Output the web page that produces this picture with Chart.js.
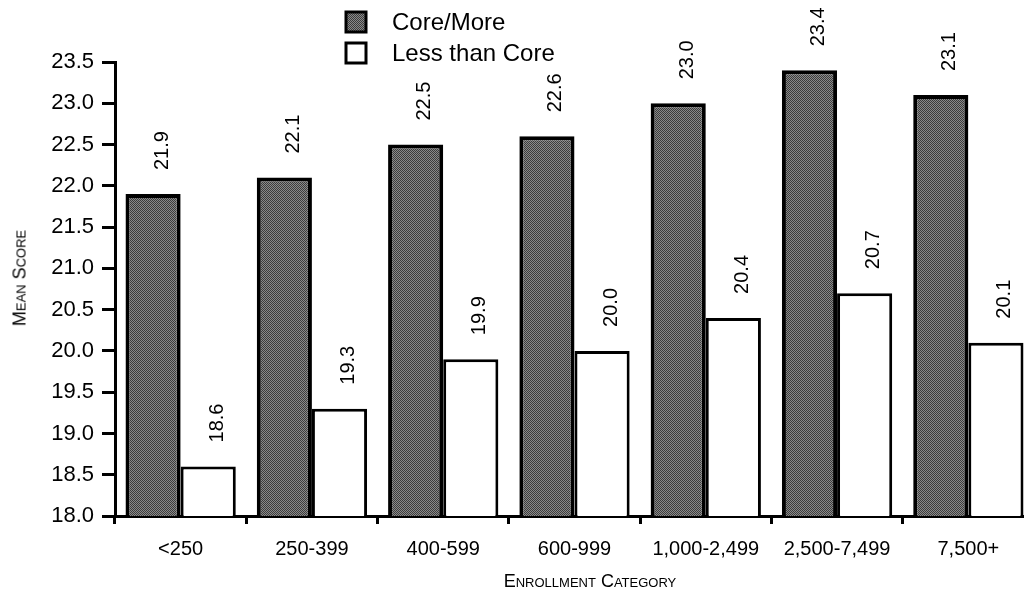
<!DOCTYPE html>
<html>
<head>
<meta charset="utf-8">
<script src="https://cdn.jsdelivr.net/npm/chart.js@4.4.1/dist/chart.umd.min.js"></script>
<style>
  html, body { margin: 0; padding: 0; background: #fff; overflow: hidden; }
  #wrap { position: relative; width: 1024px; height: 591px; overflow: hidden; }
  #box { position: absolute; left: 0; top: 0; width: 1036px; height: 591px; }
  .axis-title {
    position: absolute; font-family: 'Liberation Sans', Arial, sans-serif;
    font-variant: small-caps; font-size: 18px; color: #000; white-space: nowrap;
  }
  #ytitle { left: 20px; top: 278px; transform: translate(-50%, -50%) rotate(-90deg); }
  #xtitle { left: 590px; top: 581px; transform: translate(-50%, -50%); }
</style>
</head>
<body>
<div id="wrap">
  <div id="box"><canvas id="chart"></canvas></div>
  <div class="axis-title" id="ytitle">Mean Score</div>
  <div class="axis-title" id="xtitle">Enrollment Category</div>
</div>
<script>
// ============================================================
// DATA
// ============================================================
const categories   = ['<250', '250-399', '400-599', '600-999', '1,000-2,499', '2,500-7,499', '7,500+'];
const coreMore     = [21.9, 22.1, 22.5, 22.6, 23.0, 23.4, 23.1];
const lessThanCore = [18.6, 19.3, 19.9, 20.0, 20.4, 20.7, 20.1];
const seriesNames  = ['Core/More', 'Less than Core'];

const SANS = "'Liberation Sans', Arial, sans-serif";

// halftone-ish fill for the dark bars
function makeStipple() {
  const c = document.createElement('canvas');
  c.width = 2; c.height = 2;
  const g = c.getContext('2d');
  g.fillStyle = '#8a8a8a'; g.fillRect(0, 0, 2, 2);
  g.fillStyle = '#3c3c3c'; g.fillRect(0, 0, 1, 1); g.fillRect(1, 1, 1, 1);
  return g.createPattern(c, 'repeat');
}
const stipple = makeStipple();

// ============================================================
// PLUGINS
// ============================================================
const valueLabels = {
  id: 'valueLabels',
  afterDatasetsDraw(chart) {
    const ctx = chart.ctx;
    ctx.save();
    ctx.fillStyle = '#000';
    ctx.font = '20px ' + SANS;
    ctx.textAlign = 'left';
    ctx.textBaseline = 'middle';
    chart.data.datasets.forEach((ds, i) => {
      chart.getDatasetMeta(i).data.forEach((bar, j) => {
        ctx.save();
        ctx.translate(bar.x + 9, bar.y - 24);
        ctx.rotate(-Math.PI / 2);
        ctx.fillText(ds.data[j].toFixed(1), 0, 0);
        ctx.restore();
      });
    });
    ctx.restore();
  }
};

const boxLegend = {
  id: 'boxLegend',
  afterDraw(chart) {
    const ctx = chart.ctx;
    ctx.save();
    ctx.font = '24px ' + SANS;
    ctx.textBaseline = 'middle';
    ctx.textAlign = 'left';
    chart.data.datasets.forEach((ds, i) => {
      const y = 22 + i * 31;
      ctx.fillStyle = ds.backgroundColor;
      ctx.fillRect(346, y - 10, 20, 20);
      ctx.lineWidth = 3;
      ctx.strokeStyle = '#000';
      ctx.strokeRect(346, y - 10, 20, 20);
      ctx.fillStyle = '#000';
      ctx.fillText(ds.label, 392, y + 1);
    });
    ctx.restore();
  }
};

// ============================================================
// CHART
// ============================================================
new Chart(document.getElementById('chart'), {
  type: 'bar',
  data: {
    labels: categories,
    datasets: [
      {
        label: seriesNames[0],
        data: coreMore,
        backgroundColor: stipple,
        borderColor: '#000',
        borderWidth: 4,
        barPercentage: 1,
        categoryPercentage: 0.84,
      },
      {
        label: seriesNames[1],
        data: lessThanCore,
        backgroundColor: '#fff',
        borderColor: '#000',
        borderWidth: 3,
        barPercentage: 1,
        categoryPercentage: 0.84,
      },
    ]
  },
  options: {
    responsive: true,
    maintainAspectRatio: false,
    animation: false,
    layout: { padding: { left: 0, right: 2, top: 62, bottom: 0 } },
    plugins: {
      legend: { display: false },
      tooltip: { enabled: false },
    },
    scales: {
      x: {
        grid: { drawOnChartArea: false, drawTicks: true, tickLength: 8, color: '#000', lineWidth: 3, offset: true },
        border: { display: true, color: '#000', width: 3 },
        ticks: { color: '#000', font: { family: SANS, size: 20 }, padding: 13, maxRotation: 0, autoSkip: false },
        afterFit: s => { s.height = 75; },
      },
      y: {
        min: 18, max: 23.5,
        grid: { drawOnChartArea: false, drawTicks: true, tickLength: 13, color: '#000', lineWidth: 3 },
        border: { display: true, color: '#000', width: 3 },
        ticks: {
          stepSize: 0.5, color: '#000', padding: 8,
          font: { family: SANS, size: 22 },
          callback: v => v.toFixed(1),
        },
        afterFit: s => { s.width = 115; },
      }
    }
  },
  plugins: [valueLabels, boxLegend]
});
</script>
</body>
</html>
